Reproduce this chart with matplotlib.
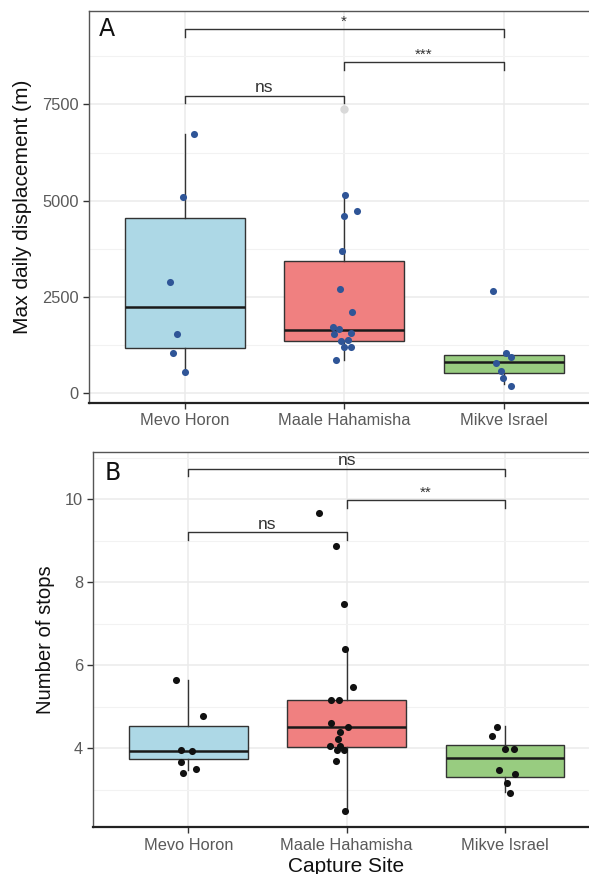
import matplotlib
matplotlib.use("Agg")
import matplotlib.pyplot as plt
from matplotlib.ticker import FixedLocator

plt.rcParams['font.family'] = ['Liberation Sans', 'DejaVu Sans']

sites = ["Mevo Horon", "Maale Hahamisha", "Mikve Israel"]
box_colors = ["#ADD8E6", "#F08080", "#98CC80"]

# Panel A: max daily displacement (m)
disp_mevo = [6724, 5104, 2897, 1532, 1038, 561]
disp_maale = [5156, 4733, 4603, 3702, 2716, 2118, 1721, 1677, 1547, 1558,
              1350, 1384, 1194, 1194, 865]
disp_mikve = [2656, 1038, 935, 779, 587, 397, 190]
# horizontal jitter (category units)
jit_a_mevo = [0.058, -0.008, -0.094, -0.050, -0.075, 0.002]
jit_a_maale = [0.004, 0.082, 0.0, -0.015, -0.025, 0.046, -0.069, -0.034,
               -0.061, 0.041, -0.021, 0.025, -0.003, 0.041, -0.050]
jit_a_mikve = [-0.067, 0.013, 0.048, -0.046, -0.017, -0.006, 0.044]
# box stats: whislo, q1, median, q3, whishi
box_a_whislo = [561, 865, 240]
box_a_q1 = [1168, 1366, 535]
box_a_med = [2248, 1635, 805]
box_a_q3 = [4543, 3434, 994]
box_a_whishi = [6724, 5156, 1038]
outliers_a = [[], [7373], []]

# Panel B: number of stops
stops_mevo = [5.64, 4.79, 3.95, 3.94, 3.67, 3.50, 3.40]
stops_maale = [9.66, 8.87, 7.48, 6.39, 5.49, 5.16, 5.16, 4.61, 4.51, 4.39,
               4.23, 4.06, 4.07, 3.95, 3.95, 3.70, 2.50]
stops_mikve = [4.51, 4.31, 3.99, 3.99, 3.48, 3.39, 3.16, 2.92]
jit_b_mevo = [-0.076, 0.092, -0.044, 0.023, -0.049, 0.048, -0.034]
jit_b_maale = [-0.175, -0.068, -0.019, -0.011, 0.038, -0.097, -0.051, -0.097,
               0.010, -0.040, -0.053, -0.104, -0.040, -0.061, -0.019, -0.068,
               -0.013]
jit_b_mikve = [-0.051, -0.082, 0.0, 0.055, -0.038, 0.063, 0.013, 0.034]
box_b_whislo = [3.48, 2.50, 2.954]
box_b_q1 = [3.742, 4.03, 3.31]
box_b_med = [3.935, 4.52, 3.76]
box_b_q3 = [4.545, 5.164, 4.072]
box_b_whishi = [5.646, 6.39, 4.537]

# significance brackets: (left group, right group), bar height, tick bottom, label
brk_a_pairs = [(0, 2), (0, 1), (1, 2)]
brk_a_y = [9450, 7726, 8600]
brk_a_tip = [9260, 7537, 8393]
brk_a_lab = ["*", "ns", "***"]
brk_b_pairs = [(0, 2), (0, 1), (1, 2)]
brk_b_y = [10.737, 9.205, 9.976]
brk_b_tip = [10.56, 9.02, 9.78]
brk_b_lab = ["ns", "ns", "**"]

fig = plt.figure(figsize=(5.89, 8.74), dpi=100)
axA = fig.add_axes([89 / 589, 1 - 403 / 874, 510.4 / 589, 392 / 874])
axB = fig.add_axes([93.3 / 589, 1 - 827.3 / 874, 506.6 / 589, 375.3 / 874])


def draw_panel(ax, values, jitters, whislo, q1, med, q3, whishi, fliers,
               pt_color, ylim, yticks, yminor):
    stats = []
    for i in range(3):
        stats.append(dict(whislo=whislo[i], q1=q1[i], med=med[i], q3=q3[i],
                          whishi=whishi[i], fliers=fliers[i]))
    bp = ax.bxp(stats, positions=range(3), widths=0.75, patch_artist=True,
                showcaps=False, zorder=2,
                boxprops=dict(edgecolor="#333333", linewidth=1.0),
                medianprops=dict(color="#1a1a1a", linewidth=1.8),
                whiskerprops=dict(color="#333333", linewidth=1.0),
                flierprops=dict(marker="o", markersize=5, markerfacecolor="#d9d9d9",
                                markeredgecolor="#d9d9d9"))
    for patch, c in zip(bp["boxes"], box_colors):
        patch.set_facecolor(c)
    for i in range(3):
        xs = [i + j for j in jitters[i]]
        ax.scatter(xs, values[i], s=26, color=pt_color, zorder=3, linewidths=0)

    ax.set_xlim(-0.6, 2.6)
    ax.set_ylim(*ylim)
    ax.set_xticks(range(3))
    ax.set_xticklabels(sites)
    ax.set_yticks(yticks)
    ax.yaxis.set_minor_locator(FixedLocator(yminor))
    ax.grid(True, which="major", color="#EBEBEB", linewidth=1.1, zorder=0)
    ax.grid(True, which="minor", axis="y", color="#F2F2F2", linewidth=0.8, zorder=0)
    ax.set_axisbelow(True)
    ax.tick_params(axis="both", which="major", length=4, width=1.0, color="#333333",
                   labelsize=11.8, labelcolor="#5a5a5a", pad=3.5)
    ax.tick_params(axis="y", which="minor", length=0)
    for s in ["left", "top", "right"]:
        ax.spines[s].set_color("#555555")
        ax.spines[s].set_linewidth(1.0)
    ax.spines["bottom"].set_color("#222222")
    ax.spines["bottom"].set_linewidth(1.6)


def draw_brackets(ax, pairs, ys, tips, labels, text_off):
    for (a, b), y, t, lab in zip(pairs, ys, tips, labels):
        ax.plot([a, a, b, b], [t, y, y, t], color="#333333", linewidth=1.0, zorder=4)
        size = 12.5 if lab == "ns" else 11
        ax.annotate(lab, xy=((a + b) / 2, y), xytext=(0, text_off),
                    textcoords="offset points", ha="center", va="bottom",
                    fontsize=size, color="#333333")


draw_panel(axA, [disp_mevo, disp_maale, disp_mikve],
           [jit_a_mevo, jit_a_maale, jit_a_mikve],
           box_a_whislo, box_a_q1, box_a_med, box_a_q3, box_a_whishi, outliers_a,
           "#2F5597", (-252, 9925), [0, 2500, 5000, 7500], [1250, 3750, 6250, 8750])
draw_brackets(axA, brk_a_pairs, brk_a_y, brk_a_tip, brk_a_lab, 0.5)

draw_panel(axB, [stops_mevo, stops_maale, stops_mikve],
           [jit_b_mevo, jit_b_maale, jit_b_mikve],
           box_b_whislo, box_b_q1, box_b_med, box_b_q3, box_b_whishi, [[], [], []],
           "#111111", (2.10, 11.14), [4, 6, 8, 10], [3, 5, 7, 9, 11])
draw_brackets(axB, brk_b_pairs, brk_b_y, brk_b_tip, brk_b_lab, 0.5)

axA.set_ylabel("Max daily displacement (m)", fontsize=15, color="#111111")
axA.yaxis.set_label_coords(-0.112, 0.5)
axB.set_ylabel("Number of stops", fontsize=14.6, color="#111111")
axB.yaxis.set_label_coords(-0.076, 0.5)

fig.text(346 / 589, 1 - 866 / 874, "Capture Site", ha="center", va="center",
         fontsize=15, color="#111111")

panel_font = ['Liberation Sans Narrow', 'DejaVu Sans']
fig.text(106.5 / 589, 1 - 29 / 874, "A", ha="center", va="center", fontsize=17,
         family=panel_font, color="#111111")
fig.text(113 / 589, 1 - 473 / 874, "B", ha="center", va="center", fontsize=17,
         family=panel_font, color="#111111")

fig.savefig("out.png", dpi=100)
